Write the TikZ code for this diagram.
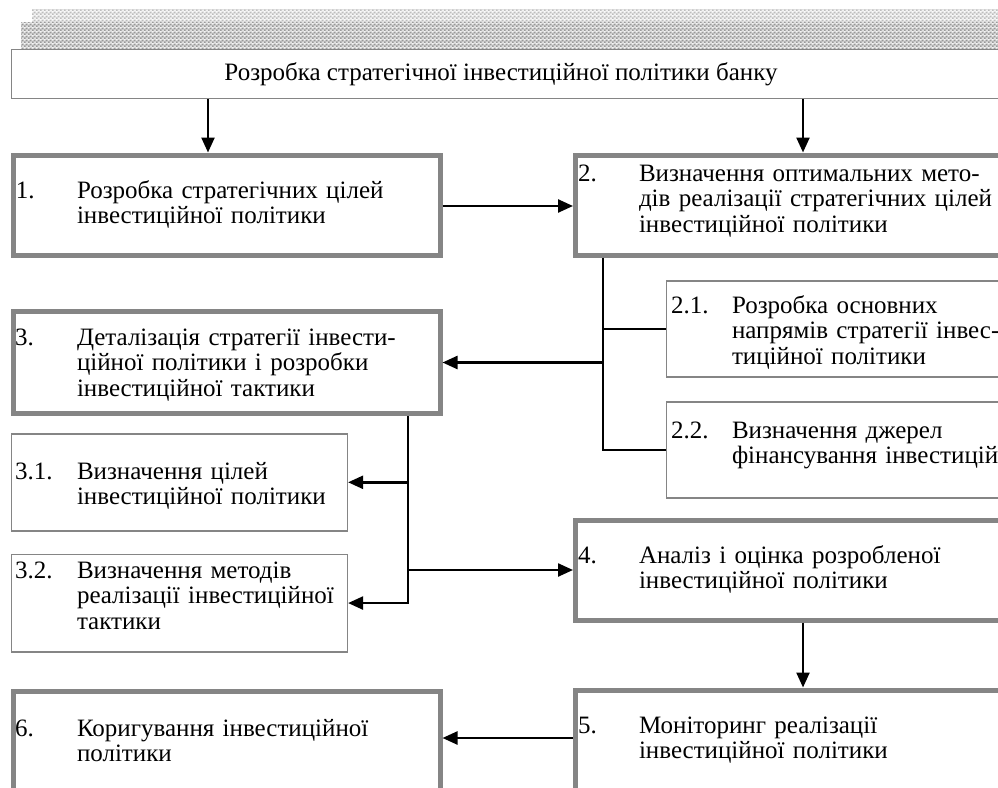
\documentclass[tikz,border=0pt]{standalone}
\usepackage{fontspec}
\setmainfont{Liberation Serif}
\usetikzlibrary{arrows.meta,calc,patterns.meta}
\definecolor{boxgray}{HTML}{858585}
\tikzdeclarepattern{
  name=chkdark,
  type=colored,
  bottom left={(0pt,0pt)},
  top right={(4pt,4pt)},
  tile size={(4pt,4pt)},
  code={
    \fill[black!12] (0pt,0pt) rectangle (4pt,4pt);
    \fill[black!40] (0pt,0pt) rectangle (2pt,2pt);
    \fill[black!40] (2pt,2pt) rectangle (4pt,4pt);
  }
}
\tikzdeclarepattern{
  name=chklight,
  type=colored,
  bottom left={(0pt,0pt)},
  top right={(4pt,4pt)},
  tile size={(4pt,4pt)},
  code={
    \fill[black!5] (0pt,0pt) rectangle (4pt,4pt);
    \fill[black!26] (0pt,0pt) rectangle (2pt,2pt);
    \fill[black!26] (2pt,2pt) rectangle (4pt,4pt);
  }
}
\begin{document}
\begin{tikzpicture}[x=1pt,y=-1pt,
  thickbox/.style={draw=boxgray, line width=5pt, outer sep=2.5pt, rectangle, inner sep=0pt, anchor=north west},
  thinbox/.style={draw=boxgray, line width=1.6pt, outer sep=0.8pt, rectangle, inner sep=0pt, anchor=north west},
  txt/.style={anchor=base west, inner sep=0pt, outer sep=0pt, font=\fontsize{25}{25.5}\selectfont, align=left, text width=440pt},
  num/.style={anchor=base west, inner sep=0pt, outer sep=0pt, font=\fontsize{25}{25.5}\selectfont},
  conn/.style={draw=black, line width=2.4pt},
  arr/.style={conn, -{Triangle[length=15pt,width=13pt]}}]
\useasboundingbox (0,0) rectangle (998,787);
% shaded band
\fill[pattern=chklight] (32,9.5) rectangle (998,22);
\fill[pattern=chkdark] (21,22) rectangle (998,48);
% boxes
\node[thinbox, fill=white, minimum width=1000pt, minimum height=49pt] (top) at (10.5,48.5) {};
\node[thickbox, minimum width=427pt, minimum height=100pt] (b1) at (10.5,152.5) {};
\node[thickbox, minimum width=440pt, minimum height=100pt] (b2) at (573,152.5) {};
\node[thinbox, minimum width=340pt, minimum height=96pt] (b21) at (665.5,280) {};
\node[thinbox, minimum width=340pt, minimum height=96pt] (b22) at (665.5,401) {};
\node[thickbox, minimum width=427pt, minimum height=102pt] (b3) at (10.5,309) {};
\node[thinbox, minimum width=336pt, minimum height=97pt] (b31) at (10.5,433) {};
\node[thinbox, minimum width=336pt, minimum height=97.5pt] (b32) at (10.5,553.5) {};
\node[thickbox, minimum width=440pt, minimum height=100pt] (b4) at (573,517.5) {};
\node[thickbox, minimum width=440pt, minimum height=120pt] (b5) at (573,687.5) {};
\node[thickbox, minimum width=427pt, minimum height=120pt] (b6) at (10.5,689) {};
% texts
\node[num, anchor=base] (title) at (501,80) {Розробка стратегічної інвестиційної політики банку};
\node[num] (n1) at (16,198) {1.};
\node[txt] (t1) at (77,198) {Розробка стратегічних цілей\\інвестиційної політики};
\node[num] (n2) at (578,181) {2.};
\node[txt] (t2) at (639,181) {Визначення оптимальних мето-\\дів реалізації стратегічних цілей\\інвестиційної політики};
\node[num] (n21) at (671,313) {2.1.};
\node[txt] (t21) at (732,313) {Розробка основних\\напрямів стратегії інвес-\\тиційної політики};
\node[num] (n22) at (671,438) {2.2.};
\node[txt] (t22) at (732,438) {Визначення джерел\\фінансування інвестицій};
\node[num] (n3) at (15,345) {3.};
\node[txt] (t3) at (77,345) {Деталізація стратегії інвести-\\ційної політики і розробки\\інвестиційної тактики};
\node[num] (n31) at (15,479) {3.1.};
\node[txt] (t31) at (77,479) {Визначення цілей\\інвестиційної політики};
\node[num] (n32) at (15,578) {3.2.};
\node[txt] (t32) at (77,578) {Визначення методів\\реалізації інвестиційної\\тактики};
\node[num] (n4) at (578,563) {4.};
\node[txt] (t4) at (639,563) {Аналіз і оцінка розробленої\\інвестиційної політики};
\node[num] (n5) at (578,733) {5.};
\node[txt] (t5) at (639,733) {Моніторинг реалізації\\інвестиційної політики};
\node[num] (n6) at (15,736) {6.};
\node[txt] (t6) at (77,736) {Коригування інвестиційної\\політики};
% connector guides
\coordinate (xa) at (208,0);
\coordinate (xb) at (803,0);
\coordinate (xs1) at (603,0);
\coordinate (xs2) at (408,0);
\coordinate (y12) at (0,206);
\coordinate (y56) at (0,738);
% connectors
\draw[arr] (top.south -| xa) -- (b1.north -| xa);
\draw[arr] (top.south -| xb) -- (b2.north -| xb);
\draw[arr] (b1.east |- y12) -- (b2.west |- y12);
\draw[conn] (b2.south -| xs1) |- (b22.west);
\draw[conn] (xs1 |- b21.west) -- (b21.west);
\draw[arr] (xs1 |- b3.east) -- (b3.east);
\draw[arr] (b3.south -| xs2) |- (b32.east);
\draw[arr] (xs2 |- b31.east) -- (b31.east);
\draw[arr] (xs2 |- b4.west) -- (b4.west);
\draw[arr] (b4.south -| xb) -- (b5.north -| xb);
\draw[arr] (b5.west |- y56) -- (b6.east |- y56);
\end{tikzpicture}
\end{document}
